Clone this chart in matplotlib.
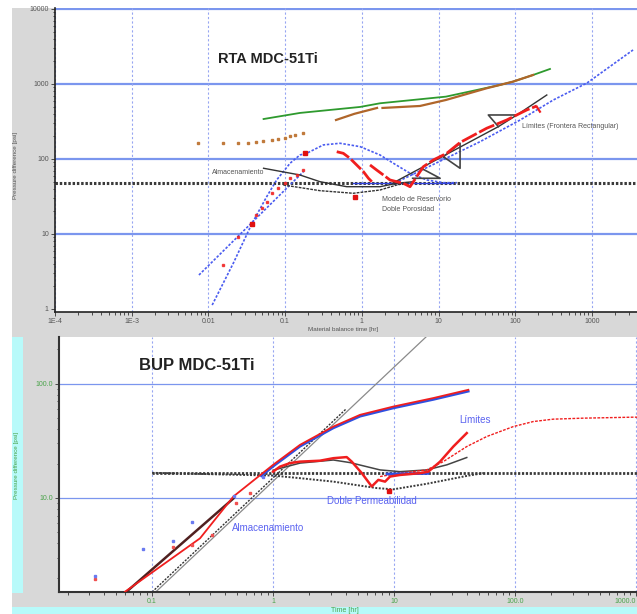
import numpy as np
import matplotlib
matplotlib.use('Agg')
import matplotlib.pyplot as plt
from matplotlib.patches import Rectangle
from matplotlib.ticker import LogLocator, NullFormatter, FixedLocator, FixedFormatter

plt.rcParams['font.family'] = ['Liberation Sans', 'DejaVu Sans']

# ---------------- RTA (top panel) data ----------------
rta_xticks = [1e-4, 1e-3, 0.01, 0.1, 1, 10, 100, 1000]
rta_xticklabels = ['1E-4', '1E-3', '0.01', '0.1', '1', '10', '100', '1000']
rta_yticks = [1, 10, 100, 1000, 10000]
rta_yticklabels = ['1', '10', '100', '1000', '10000']
rta_grid_y = [10, 100, 1000, 10000]

green_x = [0.0524, 0.156, 0.95, 1.73, 12.5, 63.4, 93.5, 171, 284]
green_y = [341, 411, 494, 553, 678, 970, 1074, 1318, 1585]

brown_dot_x = [0.00724, 0.0156, 0.0241, 0.0325, 0.0414, 0.052, 0.0668, 0.0815, 0.0998, 0.116, 0.135, 0.173]
brown_dot_y = [162, 162, 162, 165, 170, 175, 180, 185, 192, 200, 208, 220]
brown1_x = [0.461, 0.8, 1.58]
brown1_y = [331, 400, 479]
brown2_x = [1.86, 5.74, 12.5, 42.5, 93.5, 171]
brown2_y = [479, 509, 612, 877, 1074, 1318]

blue_model_x = [0.0112, 0.0211, 0.0367, 0.0575, 0.0776, 0.116, 0.156, 0.191, 0.315, 0.52,
                0.95, 1.73, 2.58, 4.25, 7.02, 11.6, 17.4]
blue_model_y = [1.13, 4.07, 13.6, 31.4, 52.5, 87.7, 113, 119, 154, 162,
                146, 113, 87.7, 64.5, 52.5, 48.3, 48.3]
blue_storage_x = [0.00753, 0.173]
blue_storage_y = [2.84, 67.7]
blue_rise_x = [2.71, 12.5, 34.8, 116, 314, 863, 3436]
blue_rise_y = [47.9, 102, 170, 331, 612, 1031, 2840]
blue_flat_x = [0.77, 15.5]
blue_flat_y = [48.3, 48.3]

rta_level_x = [1e-4, 3870]
rta_level_y = [47.9, 47.9]

red_pts_x = [0.0156, 0.0241, 0.0414, 0.0495, 0.0575, 0.0668, 0.0815, 0.0998, 0.116, 0.142, 0.173]
red_pts_y = [3.86, 9.03, 17.9, 22, 27, 35.6, 40.6, 48.3, 55.2, 61.2, 71.3]
red_big_x = [0.0367, 0.182, 0.815]
red_big_y = [13.6, 119, 31.1]
red_a_x = [0.471, 0.574, 0.701, 0.857, 1.05, 1.22, 1.35]
red_a_y = [125, 119, 102, 83.2, 67.7, 55.3, 49.8]
red_b_x = [1.28, 1.56, 1.91, 2.33, 2.85, 3.48, 4.25, 5.2, 6.34, 8.55, 12.8, 19.1, 42.5, 77.5, 141, 191]
red_b_y = [83.2, 71.3, 61.2, 52.5, 49.8, 47.4, 42.7, 58.1, 78.9, 97, 119, 166, 257, 331, 450, 509]
red_c_x = [191, 210]
red_c_y = [498, 427]

blk_up_x = [0.0524, 0.156, 0.285, 0.635, 1.73, 2.85, 4.69]
blk_up_y = [75.2, 61.2, 49.8, 42.7, 42.7, 47.4, 49.8]
blk_lo_x = [0.0948, 0.285, 0.774, 1.73, 2.85, 4.25]
blk_lo_y = [45, 37.8, 34.9, 38.6, 45, 48.3]
blk_rise_x = [2.55, 60.3, 105, 258]
blk_rise_y = [47.9, 270, 386, 713]
tri1_x = [6.3, 10.5, 4.6]
tri1_y = [73, 55.3, 55.3]
tri2_x = [11.6, 19.1, 19.1, 11.6]
tri2_y = [107, 162, 75.2, 107]
tri3_x = [60.3, 44.6, 105]
tri3_y = [270, 386, 386]

# ---------------- BUP (bottom panel) data ----------------
bup_xticks = [0.1, 1, 10, 100, 1000]
bup_xticklabels = ['0.1', '1', '10', '100.0', '1000.0']
bup_yticks = [10, 100]
bup_yticklabels = ['10.0', '100.0']

unit_x = [0.1, 20]
unit_y = [1.4, 280]
unit_dot_x = [0.1, 4.0]
unit_dot_y = [1.5, 60]

bup_p_x = [0.0598, 0.249, 0.47, 1.0, 1.67, 3.15, 5.24, 9.87, 21.1, 41.1]
bup_p_y = [1.51, 4.43, 10.3, 19.5, 29.2, 42.2, 53.5, 63.2, 75, 88.6]
bup_pm_x = [0.8, 1.0, 1.67, 3.15, 5.24, 9.87, 21.1, 41.1]
bup_pm_y = [15.6, 18.9, 28.3, 41.0, 51.9, 61.3, 72.8, 86.0]
bup_dark_x = [0.0598, 0.47]
bup_dark_y = [1.47, 9.9]

bup_red_pts_x = [0.0338, 0.15, 0.215, 0.315, 0.492, 0.646]
bup_red_pts_y = [1.95, 3.74, 3.87, 4.73, 8.99, 11.1]
bup_blue_pts_x = [0.0338, 0.0838, 0.15, 0.215, 0.479, 0.832]
bup_blue_pts_y = [2.07, 3.57, 4.22, 6.2, 10.3, 15.4]

bup_der_x = [1.0, 1.14, 1.38, 1.67, 2.44, 3.15, 4.06, 4.47, 5.41, 6.54, 7.41, 8.43, 9.27,
             11.2, 16.4, 19.2, 24, 30.9, 39.9]
bup_der_y = [17, 18.8, 20.2, 20.8, 21.2, 22.3, 22.8, 20.8, 16.5, 12.6, 14.4, 13.9, 15.4,
             15.9, 16.5, 17, 20.8, 28.2, 37]
bup_blk_up_x = [1.0, 1.67, 3.15, 4.33, 7.66, 11.2, 18.6, 27.3, 35.1, 39.9]
bup_blk_up_y = [17.5, 20.2, 21.5, 20.4, 17.6, 17, 17.6, 19.5, 21.5, 22.6]
bup_blk_lo_x = [0.1, 1.0, 1.67, 3.15, 7.19, 9.87, 18.6, 39.9, 54.7]
bup_blk_lo_y = [16.6, 15.7, 14.9, 13.9, 12.2, 11.9, 13.3, 15.6, 16.5]
bup_level_x = [0.1, 1020]
bup_level_y = [16.6, 16.6]
bup_blue_flat_x = [8.75, 19.1]
bup_blue_flat_y = [16.2, 16.4]
bup_red_model_x = [7.66, 11.2, 18.6, 25.5, 39.9, 58.3, 96.8, 141.6, 207, 367, 951, 1020]
bup_red_model_y = [15.4, 16.5, 17.6, 20.8, 28.2, 34.5, 42.2, 46.7, 49, 50, 51, 51]
bup_big_x = [9.1]
bup_big_y = [11.5]

# colours
GRAY_BG = '#d8d8d8'
CYAN = '#b8fafa'
BLUE = '#4a5cf0'
RED = '#f01e1e'
GRID_H = '#7b96ee'
GRID_V = '#97a6f2'
GREEN_TXT = '#4aa34a'

W, H = 637, 614
fig = plt.figure(figsize=(W / 100, H / 100), dpi=100)
fig.patch.set_facecolor('white')


def frect(x0, y0, x1, y1, color):
    # rectangle given in pixel coords (origin top-left)
    r = Rectangle((x0 / W, 1 - y1 / H), (x1 - x0) / W, (y1 - y0) / H,
                  transform=fig.transFigure, facecolor=color, edgecolor='none', zorder=-10)
    fig.add_artist(r)


frect(12, 8, 637, 614, GRAY_BG)
frect(12, 337, 23, 593, CYAN)
frect(12, 607, 637, 614, CYAN)

# ================= top panel =================
ax1 = fig.add_axes([55 / W, 1 - 312 / H, 582 / W, 304 / H])
ax1.set_xscale('log')
ax1.set_yscale('log')
ax1.set_xlim(1e-4, 3870)
ax1.set_ylim(0.912, 10300)

for gy in rta_grid_y:
    ax1.axhline(gy, color=GRID_H, lw=1.6, zorder=0.5)
ax1.xaxis.grid(True, which='major', color=GRID_V, lw=0.8, ls=(0, (2, 2)))
ax1.set_axisbelow(True)

ax1.plot(rta_level_x, rta_level_y, color='#3a3a3a', lw=2.2, ls=(0, (0.8, 0.6)), zorder=2)
ax1.plot(green_x, green_y, color='#2e9a2e', lw=1.3, zorder=3)
ax1.plot(brown_dot_x, brown_dot_y, ls='none', marker='s', ms=1.8, color='#c07a3c', zorder=3)
ax1.plot(brown1_x, brown1_y, color='#b0662a', lw=1.6, zorder=3)
ax1.plot(brown2_x, brown2_y, color='#b0662a', lw=1.6, zorder=3)
ax1.plot(blue_model_x, blue_model_y, color=BLUE, lw=1.2, ls=(0, (1.5, 1)), zorder=4)
ax1.plot(blue_storage_x, blue_storage_y, color=BLUE, lw=1.2, ls=(0, (1.5, 1)), zorder=4)
ax1.plot(blue_rise_x, blue_rise_y, color=BLUE, lw=1.2, ls=(0, (1.5, 1)), zorder=4)
ax1.plot(blue_flat_x, blue_flat_y, color='#3344dd', lw=1.0, zorder=4)
ax1.plot(blk_up_x, blk_up_y, color='#333333', lw=1.0, zorder=4)
ax1.plot(blk_lo_x, blk_lo_y, color='#333333', lw=1.0, ls=(0, (2, 0.8)), zorder=4)
ax1.plot(blk_rise_x, blk_rise_y, color='#333333', lw=1.0, zorder=4)
for tx, ty in [(tri1_x, tri1_y), (tri2_x, tri2_y), (tri3_x, tri3_y)]:
    ax1.plot(tx, ty, color='#444444', lw=1.2, zorder=4)
ax1.plot(red_pts_x, red_pts_y, ls='none', marker='s', ms=2, color=RED, alpha=0.8, zorder=5)
ax1.plot(red_a_x, red_a_y, color=RED, lw=2.0, ls=(0, (5, 1)), zorder=5)
ax1.plot(red_b_x, red_b_y, color=RED, lw=2.0, ls=(0, (6, 1)), zorder=5)
ax1.plot(red_c_x, red_c_y, color=RED, lw=1.6, zorder=5)
ax1.plot(red_big_x, red_big_y, ls='none', marker='s', ms=3.5, color='#e01010', zorder=6)

ax1.text(0.0111, 67, 'Almacenamiento', fontsize=5, color='#555555', va='center')
ax1.text(1.83, 24.5, 'Modelo de Reservorio\nDoble Porosidad', fontsize=5, color='#555555',
         va='center', linespacing=1.6)
ax1.text(123, 275, 'Límites (Frontera Rectangular)', fontsize=5, color='#555555', va='center')
fig.text(268 / W, 1 - 59 / H, 'RTA MDC-51Ti', fontsize=10.5, fontweight='bold',
         color='#222222', ha='center', va='center')

ax1.yaxis.set_major_locator(FixedLocator(rta_yticks))
ax1.yaxis.set_major_formatter(FixedFormatter(rta_yticklabels))
ax1.xaxis.set_major_locator(FixedLocator(rta_xticks))
ax1.xaxis.set_major_formatter(FixedFormatter(rta_xticklabels))
ax1.xaxis.set_minor_locator(LogLocator(subs=np.arange(2, 10)))
ax1.yaxis.set_minor_locator(LogLocator(subs=np.arange(2, 10)))
ax1.xaxis.set_minor_formatter(NullFormatter())
ax1.yaxis.set_minor_formatter(NullFormatter())
ax1.tick_params(which='both', direction='out', labelsize=5, labelcolor='#555555',
                color='#333333', width=0.6, pad=1.5)
ax1.tick_params(which='major', length=3)
ax1.tick_params(which='minor', length=1.8)
for s in ['top', 'right']:
    ax1.spines[s].set_visible(False)
for s in ['left', 'bottom']:
    ax1.spines[s].set_color('#222222')
    ax1.spines[s].set_linewidth(1.2)

fig.text(343 / W, 1 - 330 / H, 'Material balance time [hr]', fontsize=4.5,
         color='#555555', ha='center', va='center')
fig.text(15 / W, 1 - 165 / H, 'Pressure difference [psi]', fontsize=4.5,
         color='#555555', ha='center', va='center', rotation=90)

# ================= bottom panel =================
ax2 = fig.add_axes([59 / W, 1 - 592 / H, 578 / W, 255 / H])
ax2.set_xscale('log')
ax2.set_yscale('log')
ax2.set_xlim(0.017, 1019)
ax2.set_ylim(1.5, 257)

ax2.plot(unit_x, unit_y, color='#8a8a8a', lw=0.9, zorder=2)
ax2.plot(unit_dot_x, unit_dot_y, color='#333333', lw=1.0, ls=(0, (1.5, 1)), zorder=2)
ax2.plot(bup_level_x, bup_level_y, color='#3a3a3a', lw=2.0, ls=(0, (0.8, 0.6)), zorder=2)
ax2.plot(bup_blk_lo_x, bup_blk_lo_y, color='#3a3a3a', lw=1.4, ls=(0, (1, 0.8)), zorder=3)
ax2.plot(bup_blk_up_x, bup_blk_up_y, color='#444444', lw=1.1, zorder=3)
ax2.plot(bup_dark_x, bup_dark_y, color='#502020', lw=1.8, zorder=3)
ax2.plot(bup_pm_x, bup_pm_y, color='#3050e0', lw=1.8, zorder=4)
ax2.plot(bup_p_x, bup_p_y, color=RED, lw=1.3, zorder=5)
ax2.plot(bup_red_model_x, bup_red_model_y, color=RED, lw=1.0, ls=(0, (2, 1)), zorder=4)
ax2.plot(bup_blue_flat_x, bup_blue_flat_y, color='#3050e0', lw=2.0, zorder=4)
ax2.plot(bup_der_x, bup_der_y, color=RED, lw=1.8, zorder=5)
ax2.plot(bup_red_pts_x, bup_red_pts_y, ls='none', marker='s', ms=2, color='#f05050', zorder=5)
ax2.plot(bup_blue_pts_x, bup_blue_pts_y, ls='none', marker='s', ms=2, color='#6a7af0', zorder=5)
ax2.plot(bup_big_x, bup_big_y, ls='none', marker='s', ms=3.5, color='#e01010', zorder=6)

ax2.text(0.458, 5.46, 'Almacenamiento', fontsize=7, color='#5b63f0', va='center')
ax2.text(2.79, 9.4, 'Doble Permeabilidad', fontsize=7, color='#5b63f0', va='center')
ax2.text(34.4, 48.3, 'Límites', fontsize=7, color='#5b63f0', va='center')
fig.text(197 / W, 1 - 365 / H, 'BUP MDC-51Ti', fontsize=12, fontweight='bold',
         color='#222222', ha='center', va='center')

ax2.yaxis.set_major_locator(FixedLocator(bup_yticks))
ax2.yaxis.set_major_formatter(FixedFormatter(bup_yticklabels))
ax2.xaxis.set_major_locator(FixedLocator(bup_xticks))
ax2.xaxis.set_major_formatter(FixedFormatter(bup_xticklabels))
ax2.xaxis.set_minor_locator(LogLocator(subs=np.arange(2, 10)))
ax2.yaxis.set_minor_locator(LogLocator(subs=np.arange(2, 10)))
ax2.xaxis.set_minor_formatter(NullFormatter())
ax2.yaxis.set_minor_formatter(NullFormatter())
ax2.tick_params(which='both', direction='out', labelsize=5, labelcolor=GREEN_TXT,
                color='#333333', width=0.6, pad=1.5)
ax2.tick_params(which='major', length=3)
ax2.tick_params(which='minor', length=1.8)
ax2.yaxis.grid(True, which='major', color=GRID_H, lw=0.9)
ax2.xaxis.grid(True, which='major', color=GRID_V, lw=0.8, ls=(0, (2, 2)))
ax2.set_axisbelow(True)
for s in ['top', 'right']:
    ax2.spines[s].set_visible(False)
for s in ['left', 'bottom']:
    ax2.spines[s].set_color('#333333')
    ax2.spines[s].set_linewidth(1.5)
# last x label sits at the right edge: anchor it on its right side
ax2.get_xticklabels()[-1].set_horizontalalignment('right')

fig.text(17 / W, 1 - 465 / H, 'Pressure difference [psi]', fontsize=4.5,
         color=GREEN_TXT, ha='center', va='center', rotation=90)
fig.text(345 / W, 1 - 611 / H, 'Time [hr]', fontsize=5, color=GREEN_TXT,
         ha='center', va='center')

fig.savefig('out.png', dpi=100)
